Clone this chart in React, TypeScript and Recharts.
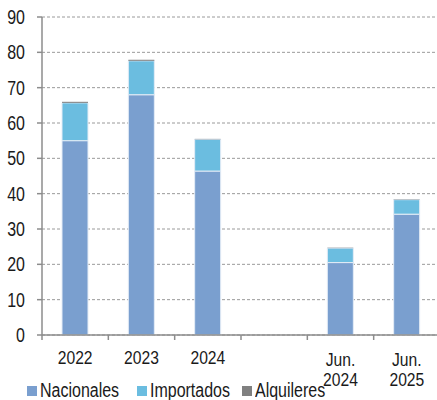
import React from "react";
import { BarChart, Bar, XAxis, YAxis, CartesianGrid } from "recharts";

const categories = ["2022", "2023", "2024", "", "Jun.\n2024", "Jun.\n2025"];
const nacionales = [55, 68, 46.4, null, 20.5, 34.2];
const importados = [10.7, 9.6, 9.0, null, 4.1, 4.1];
const alquileres = [0.3, 0.3, 0.1, null, 0.1, 0.1];
const yTicks = [0, 10, 20, 30, 40, 50, 60, 70, 80, 90];
const seriesNames = ["Nacionales", "Importados", "Alquileres"];
const colors = ["#7a9fcf", "#6bbde0", "#808080"];

const data = categories.map((c, i) => ({
  name: c,
  nac: nacionales[i],
  imp: importados[i],
  alq: alquileres[i],
}));

const FONT = '"Liberation Sans", Arial, sans-serif';
const FS = 19.5;
const SX = 0.82;
const XFS = 18;
const XSX = 0.87;
const AXIS = "#8c8c8c";
const CHART_W = 440;
const Y_W = 42;
const BAND = (CHART_W - Y_W) / categories.length;

const XTick = (props: any) => {
  const { x, y, payload } = props;
  const lines = String(payload.value).split("\n");
  const multi = lines.length > 1;
  return (
    <g>
      <line x1={x - BAND / 2} x2={x - BAND / 2} y1={y} y2={y + 5} stroke={AXIS} strokeWidth={1.5} />
      {payload.index === categories.length - 1 && (
        <line x1={x + BAND / 2} x2={x + BAND / 2} y1={y} y2={y + 5} stroke={AXIS} strokeWidth={1.5} />
      )}
      <g transform={`translate(${x},${y + (multi ? 31 : 29)}) scale(${XSX},1)`}>
        <text x={0} y={0} textAnchor="middle" fontFamily={FONT} fontSize={XFS} fill="#1a1a1a">
          {lines.map((l, i) => (
            <tspan key={i} x={0} dy={i === 0 ? 0 : 20.4}>
              {l}
            </tspan>
          ))}
        </text>
      </g>
    </g>
  );
};

const YTick = (props: any) => {
  const { x, y, payload } = props;
  return (
    <g transform={`translate(${x},${y + 7}) scale(${SX},1)`}>
      <text x={0} y={0} textAnchor="end" fontFamily={FONT} fontSize={FS} fill="#1a1a1a">
        {payload.value}
      </text>
    </g>
  );
};

export default function App() {
  const legendLeft = [27, 137, 242];
  return (
    <div style={{ position: "absolute", left: 0, top: 0, width: 437, height: 400, overflow: "hidden", background: "#fff" }}>
      <BarChart
        width={CHART_W}
        height={400}
        data={data}
        margin={{ top: 17, right: 0, left: 0, bottom: 0 }}
        barSize={26}
      >
        <CartesianGrid vertical={false} stroke="#9a9a9a" strokeDasharray="3 2" />
        <XAxis
          dataKey="name"
          height={65}
          interval={0}
          tickLine={false}
          tickSize={0}
          tickMargin={0}
          axisLine={{ stroke: AXIS, strokeWidth: 1.5 }}
          tick={<XTick />}
        />
        <YAxis
          width={Y_W}
          domain={[0, 90]}
          ticks={yTicks}
          interval={0}
          tickSize={5}
          tickMargin={12}
          axisLine={{ stroke: AXIS, strokeWidth: 1.5 }}
          tickLine={{ stroke: AXIS, strokeWidth: 1.5 }}
          tick={<YTick />}
        />
        <Bar dataKey="nac" stackId="a" fill={colors[0]} stroke="#e4ecf6" strokeWidth={1} isAnimationActive={false} />
        <Bar dataKey="imp" stackId="a" fill={colors[1]} stroke="#e4ecf6" strokeWidth={1} isAnimationActive={false} />
        <Bar dataKey="alq" stackId="a" fill={colors[2]} isAnimationActive={false} />
      </BarChart>
      {seriesNames.map((n, i) => (
        <div
          key={n}
          style={{
            position: "absolute",
            left: legendLeft[i],
            top: 380,
            height: 21,
            display: "flex",
            alignItems: "center",
            fontFamily: FONT,
            fontSize: FS,
            color: "#1a1a1a",
            whiteSpace: "nowrap",
          }}
        >
          <span style={{ display: "inline-block", width: 10, height: 10, background: colors[i], marginRight: 3 }} />
          <span style={{ display: "inline-block", transform: `scaleX(${SX})`, transformOrigin: "left center" }}>{n}</span>
        </div>
      ))}
    </div>
  );
}
